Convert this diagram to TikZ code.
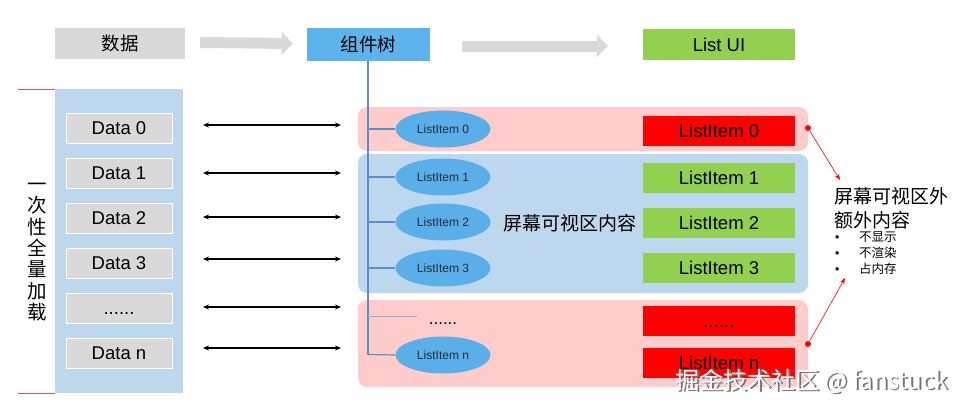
\documentclass[tikz,border=0pt]{standalone}
\usepackage{fontspec}
\setmainfont{Liberation Sans}
\newfontfamily\cjk{Noto Sans CJK SC}
\usetikzlibrary{arrows.meta,shapes.geometric}
\definecolor{boxgray}{HTML}{D9D9D9}
\definecolor{colblue}{HTML}{BDD7EE}
\definecolor{bandpink}{HTML}{FFCCCC}
\definecolor{treeblue}{HTML}{5DB3EC}
\definecolor{ellblue}{HTML}{5AAFE8}
\definecolor{linkblue}{HTML}{5B8FC9}
\definecolor{okgreen}{HTML}{92D050}
\definecolor{hotred}{HTML}{FF0000}
\definecolor{bracketred}{HTML}{E8505E}
\definecolor{itemtext}{HTML}{1F2D3D}
\begin{document}
\begin{tikzpicture}[x=1pt,y=-1pt,
  headbox/.style={minimum width=#1, minimum height=31pt, inner sep=0pt, font=\fontsize{18.5}{20}\selectfont},
  databox/.style={fill=boxgray, draw=white, line width=0.8pt, minimum width=106pt, minimum height=30pt, inner sep=0pt, text height=13pt, text depth=0pt, font=\fontsize{18.5}{20}\selectfont},
  uibox/.style={fill=#1, minimum width=152pt, minimum height=30pt, inner sep=0pt, text height=13.5pt, text depth=0pt, font=\fontsize{18.5}{20}\selectfont},
  item/.style={ellipse, fill=ellblue, minimum width=95pt, minimum height=37pt, inner sep=0pt, text=itemtext, font=\fontsize{12}{13}\selectfont},
  blockarrow/.style={draw=boxgray, line width=11pt, -{Triangle[length=11pt,width=22pt]}},
  dbl/.style={{Stealth[length=6pt,width=5pt]}-{Stealth[length=6pt,width=5pt]}, line width=1.5pt},
  branch/.style={draw=linkblue, line width=1.2pt},
  redlink/.style={draw=hotred, line width=0.6pt, -{Stealth[length=6pt,width=4.5pt]}},
  reddot/.style={circle, fill=hotred, minimum size=6pt, inner sep=0pt}
]
\useasboundingbox (0,0) rectangle (978,410);

% header row
\node[headbox=130pt, fill=boxgray] (shuju) at (120,43.5) {\cjk 数据};
\node[headbox=123pt, minimum height=33pt, fill=treeblue] (tree) at (368.5,44.5) {\cjk 组件树};
\node[headbox=152pt, fill=okgreen] (listui) at (719,44.5) {List UI};
\draw[blockarrow] ([xshift=15pt,yshift=1pt]shuju.east) -- ([xshift=-14pt,yshift=0pt]tree.west |- shuju.east);
\draw[blockarrow] ([xshift=32pt,yshift=-1.5pt]tree.east) -- ([xshift=-35pt,yshift=-1.5pt]listui.west);

% left column
\fill[colblue] (55,89) rectangle (183,393);
\draw[bracketred, line width=0.8pt] (18,89) -- (55,89);
\draw[bracketred, line width=0.8pt] (18,393) -- (55,393);
\node[align=center, inner sep=0pt, font=\cjk\fontsize{19.5}{21.4}\selectfont] (vlabel) at (37,252) {一\\次\\性\\全\\量\\加\\载};

\node[databox] (d0) at (119,128) {Data 0};
\node[databox] (d1) at (119,173) {Data 1};
\node[databox] (d2) at (119,218) {Data 2};
\node[databox] (d3) at (119,263) {Data 3};
\node[databox] (dd) at (119,308) {......};
\node[databox] (dn) at (119,353) {Data n};

% double arrows
\foreach \i/\y in {0/125,1/173,2/217,3/259,4/307,5/348}{
  \coordinate (la\i) at (203,\y);
  \coordinate (ra\i) at (341,\y);
  \draw[dbl] (la\i) -- (ra\i);
}

% bands
\fill[bandpink, rounded corners=9pt] (358,107) rectangle (808,151);
\fill[colblue, rounded corners=9pt] (358,154) rectangle (808,293);
\fill[bandpink, rounded corners=9pt] (358,300) rectangle (808,387);

% tree
\node[item] (e0) at (443,129) {ListItem 0};
\node[item] (e1) at (443,177) {ListItem 1};
\node[item] (e2) at (443,222) {ListItem 2};
\node[item] (e3) at (443,268) {ListItem 3};
\node[item] (en) at (443,355) {ListItem n};
\node[font=\fontsize{17}{18}\selectfont, inner sep=0pt, anchor=base] (edots) at (443,324) {......};
\coordinate (treebottom) at (368,354.5);
\draw[branch] (tree.south -| treebottom) -- (treebottom);
\draw[branch] (e0.west -| treebottom) -- (e0.west);
\draw[branch] (e1.west -| treebottom) -- (e1.west);
\draw[branch] (e2.west -| treebottom) -- (e2.west);
\draw[branch] (e3.west -| treebottom) -- (e3.west);
\coordinate (dotsend) at (417,316);
\draw[branch, line width=0.8pt, draw=linkblue!70] (dotsend -| treebottom) -- (dotsend);
\draw[branch] (treebottom) -- (en.west);

\node[font=\cjk\fontsize{19}{20}\selectfont, inner sep=0pt] (visible) at (570,223) {屏幕可视区内容};

% list ui items
\node[uibox=hotred] (u0) at (719,131) {ListItem 0};
\node[uibox=okgreen] (u1) at (719,178) {ListItem 1};
\node[uibox=okgreen] (u2) at (719,222.5) {ListItem 2};
\node[uibox=okgreen] (u3) at (719,268) {ListItem 3};
\node[uibox=hotred] (ud) at (719,320.5) {......};
\node[uibox=hotred] (un) at (719,362.5) {ListItem n};

% red links
\node[reddot] (dot0) at (808,128) {};
\node[reddot] (dot1) at (808,344) {};
\coordinate (tip0) at (840,180);
\coordinate (tip1) at (845,278);
\draw[redlink] (dot0) -- (tip0);
\draw[redlink] (dot1) -- (tip1);

\node[anchor=west, align=left, inner sep=0pt, font=\cjk\fontsize{19}{24}\selectfont] (outside) at (834,208) {屏幕可视区外\\额外内容};
\node[anchor=west, inner sep=0pt, font=\cjk\fontsize{12.5}{14}\selectfont] (b1) at (835,237) {\makebox[24pt][l]{\fontspec{Liberation Sans}•}不显示};
\node[anchor=west, inner sep=0pt, font=\cjk\fontsize{12.5}{14}\selectfont] (b2) at (835,253) {\makebox[24pt][l]{\fontspec{Liberation Sans}•}不渲染};
\node[anchor=west, inner sep=0pt, font=\cjk\fontsize{12.5}{14}\selectfont] (b3) at (835,269) {\makebox[24pt][l]{\fontspec{Liberation Sans}•}占内存};

% watermark
\node[anchor=west, inner sep=0pt, text=black!55, font=\cjk\fontsize{24}{26}\selectfont] (wmshadow) at (676.8,382.8) {掘金技术社区 @ fanstuck};
\node[anchor=west, inner sep=0pt, text=white, font=\cjk\fontsize{24}{26}\selectfont] (wm) at (675,381) {掘金技术社区 @ fanstuck};
\end{tikzpicture}
\end{document}
